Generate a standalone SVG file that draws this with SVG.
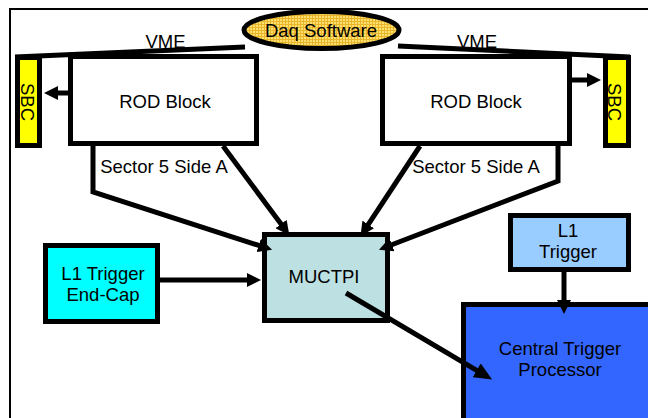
<svg xmlns="http://www.w3.org/2000/svg" width="648" height="418" viewBox="0 0 648 418">
<style>
text{font-family:"Liberation Sans",Arial,sans-serif;font-size:18.5px;fill:#000}
.box{stroke:#000;stroke-width:5}
.c{fill:none;stroke:#000;stroke-width:5;stroke-linejoin:miter}
.m{text-anchor:middle}
</style>
<defs>
<pattern id="grid" width="3" height="3" patternUnits="userSpaceOnUse">
<rect width="3" height="3" fill="#fde070"/>
<path d="M0,0.5H3M0.5,0V3" stroke="#e9b52a" stroke-width="1"/>
</pattern>
<marker id="ah" viewBox="0 0 14 14" refX="1" refY="7" markerWidth="14" markerHeight="14" markerUnits="userSpaceOnUse" orient="auto">
<path d="M0,0L14,7L0,14z" fill="#000"/>
</marker>
<marker id="ahL" viewBox="0 0 18 16" refX="1" refY="8" markerWidth="18" markerHeight="16" markerUnits="userSpaceOnUse" orient="auto">
<path d="M0,0L18,8L0,16z" fill="#000"/>
</marker>
</defs>
<rect width="648" height="418" fill="#fff"/>
<path d="M10,418V9H648" fill="none" stroke="#000" stroke-width="2"/>

<g id="labels">
<text class="m" x="165.5" y="48">VME</text>
<text class="m" x="477" y="48">VME</text>
<text class="m" x="164" y="173">Sector 5 Side A</text>
<text class="m" x="476" y="173">Sector 5 Side A</text>
</g>

<g id="rod-left">
<rect x="70.5" y="56.5" width="186" height="87" fill="#fff" class="box"/>
<text class="m" x="165" y="108">ROD Block</text>
</g>

<g id="rod-right">
<rect x="382.5" y="56.5" width="187" height="87" fill="#fff" class="box"/>
<text class="m" x="476" y="108">ROD Block</text>
</g>

<g id="sbc-left">
<rect x="17.5" y="57.5" width="22" height="88" fill="#ffff00" class="box"/>
<text class="m" transform="translate(21,102) rotate(90)">SBC</text>
</g>

<g id="sbc-right">
<rect x="605.5" y="57.5" width="23" height="88" fill="#ffff00" class="box"/>
<text class="m" transform="translate(608,102) rotate(90)">SBC</text>
</g>

<g id="muctpi">
<rect x="264.5" y="234.5" width="123" height="86" fill="#bde0e3" class="box"/>
<text class="m" x="324" y="283">MUCTPI</text>
</g>

<g id="l1-endcap">
<rect x="45.5" y="245.5" width="112" height="76" fill="#00ffff" class="box"/>
<text class="m" x="103" y="280">L1 Trigger</text>
<text class="m" x="103" y="301">End-Cap</text>
</g>

<g id="l1-trigger">
<rect x="510.5" y="215.5" width="118" height="54" fill="#99ccff" class="box"/>
<text class="m" x="568" y="237">L1</text>
<text class="m" x="568" y="258">Trigger</text>
</g>

<g id="ctp">
<rect x="463.5" y="304.5" width="200" height="150" fill="#3366ff" class="box"/>
<text class="m" x="560" y="355">Central Trigger</text>
<text class="m" x="560" y="376">Processor</text>
</g>

<g id="connectors">
<path class="c" d="M15,57L245,47"/>
<path class="c" d="M398,46L630,57"/>
<path class="c" d="M68,93H57" marker-end="url(#ah)"/>
<path class="c" d="M572,80H588" marker-end="url(#ah)"/>
<path class="c" d="M160,280H248" marker-end="url(#ah)"/>
<path class="c" d="M564,272V301" marker-end="url(#ah)"/>
<path class="c" d="M346,293L477.5,370.8" marker-end="url(#ahL)"/>
<path class="c" d="M93,146V192L259.7,245.7" marker-end="url(#ah)"/>
<path class="c" d="M223,146L281.6,224.8" marker-end="url(#ah)"/>
<path class="c" d="M420,146L367.7,225.3" marker-end="url(#ah)"/>
<path class="c" d="M558,146V181L391.1,245" marker-end="url(#ah)"/>
</g>

<g id="daq">
<ellipse cx="321.5" cy="30" rx="77.5" ry="18.5" fill="url(#grid)" class="box"/>
<text class="m" x="321" y="37">Daq Software</text>
</g>
</svg>
